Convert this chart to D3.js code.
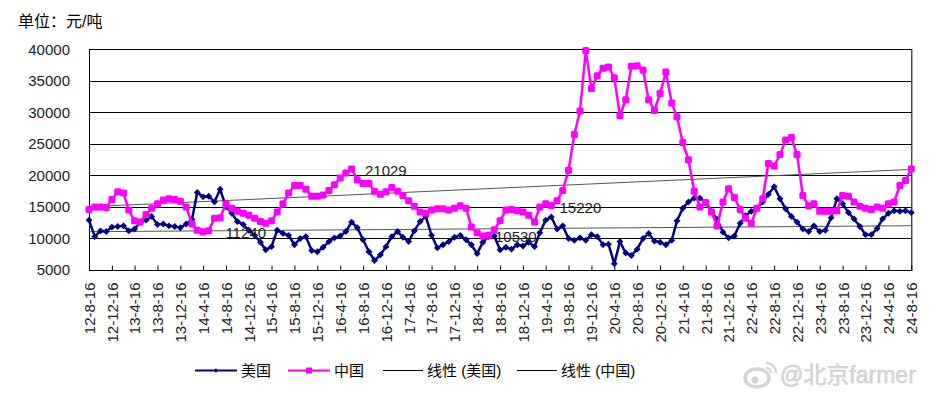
<!DOCTYPE html>
<html>
<head>
<meta charset="utf-8">
<script src="https://cdn.jsdelivr.net/npm/d3@7"></script>
<style>
body { margin: 0; background: #fff; }
text { font-family: "Liberation Sans", Arial, "Noto Sans CJK SC", sans-serif; }
</style>
</head>
<body>
<div id="chart"></div>
<script>
var svgWidth = 941;
var svgHeight = 397;

// monthly readings, Aug 2012 .. Aug 2024 (yuan/ton)
var usValues = [
    12900, 10300, 11200, 11100, 11800,
    11900, 12000, 11200, 11500, 12600, 12900, 13500, 12200, 12300, 12000, 11900, 11700,
    12300, 13000, 17300, 16600, 16700, 15800, 17800, 15000, 14000, 12700, 12200, 11300,
    10500, 9400, 8200, 8700, 11300, 10800, 10500, 9000, 10000, 10300, 8100, 7900,
    8600, 9500, 10100, 10400, 11100, 12600, 11700, 9800, 7900, 6500, 7400, 8700,
    10300, 11100, 10200, 9500, 11200, 12700, 13500, 10500, 8500, 9000, 9500, 10200,
    10500, 9800, 9000, 7600, 9400, 10300, 10400, 8200, 8600, 8300, 9000, 8800,
    9400, 8700, 10900, 12900, 13400, 11500, 12000, 10000, 9700, 10100, 9700, 10600,
    10300, 9000, 9100, 6000, 9500, 7700, 7300, 8300, 10000, 10800, 9600, 9400,
    9000, 9700, 12800, 14800, 15800, 16400, 16400, 15700, 14300, 13000, 11000, 10100,
    10400, 12400, 13600, 14300, 14800, 15800, 17000, 18200, 16300, 14700, 13500, 12600,
    11500, 11100, 12000, 11100, 11300, 13300, 16300, 15500, 14100, 13100, 11900, 10600,
    10600, 11600, 13100, 14000, 14400, 14300, 14400, 14100
];

var cnValues = [
    14600, 15000, 15000, 14900, 16200,
    17400, 17200, 14500, 12800, 12600, 13800, 14800, 15500, 16100, 16300, 16200, 15900,
    15000, 12300, 11300, 11070, 11240, 13200, 13300, 15500, 14800, 14300, 14000, 13700,
    13200, 12700, 12400, 12800, 14200, 15500, 17200, 18400, 18400, 17800, 16700, 16700,
    16900, 17600, 18500, 19600, 20400, 21029, 19300, 18700, 18700, 17500, 17000, 17400,
    18100, 17500, 16800, 16000, 15100, 14200, 14000, 14500, 14700, 14700, 14500, 14800,
    15200, 14800, 11800, 10900, 10400, 10530, 11400, 12800, 14500, 14600, 14400, 14200,
    13700, 12600, 15000, 15500, 15220, 16000, 17600, 20800, 26500, 30200, 39800, 33800,
    35800, 37000, 37200, 35500, 29500, 32000, 37300, 37400, 36700, 32000, 30300, 33000,
    36400, 31500, 29300, 25200, 22500, 17500, 15000, 15700, 14200, 12000, 15800, 17900,
    16500, 14600, 13200, 12400, 14800, 16300, 21900, 21500, 23300, 25600, 26000, 23300,
    16800, 15200, 15500, 14300, 14300, 14300, 14400, 16800, 16700, 15800, 15100, 14800,
    14600, 15000, 14800, 15500, 15800, 18400, 19200, 21000
];

// linear trend, value at first and last date
var usTrend = [11070, 12020];
var cnTrend = [15030, 20950];

var tickLabels = [
    "12-8-16", "12-12-16", "13-4-16", "13-8-16", "13-12-16", "14-4-16", "14-8-16", "14-12-16",
    "15-4-16", "15-8-16", "15-12-16", "16-4-16", "16-8-16", "16-12-16", "17-4-16", "17-8-16",
    "17-12-16", "18-4-16", "18-8-16", "18-12-16", "19-4-16", "19-8-16", "19-12-16", "20-4-16",
    "20-8-16", "20-12-16", "21-4-16", "21-8-16", "21-12-16", "22-4-16", "22-8-16", "22-12-16",
    "23-4-16", "23-8-16", "23-12-16", "24-4-16", "24-8-16"
];

var yTicks = [5000, 10000, 15000, 20000, 25000, 30000, 35000, 40000];

var labelDates = ["14-7-12", "16-7-25", "18-6-18", "19-5-28"];
var labelValues = [11240, 21029, 10530, 15220];

var parseDate = d3.timeParse("%y-%m-%d");
var tickDates = tickLabels.map(parseDate);
var dates = usValues.map((d, i) => new Date(2012, 7 + i, 16));

var margin = { top: 49.3, left: 89, right: 29.7, bottom: 127 };

var svg = d3.select("#chart")
    .append("svg")
    .attr("width", svgWidth)
    .attr("height", svgHeight);

var xScale = d3.scaleTime()
    .domain([tickDates[0], tickDates[tickDates.length - 1]])
    .range([margin.left, svgWidth - margin.right]);

var yScale = d3.scaleLinear()
    .domain([5000, 40000])
    .range([svgHeight - margin.bottom, margin.top]);

// title
svg.append("text")
    .attr("x", 18)
    .attr("y", 27)
    .attr("font-size", 16)
    .attr("fill", "#000")
    .text("单位：元/吨");

// gridlines
svg.append("g")
    .selectAll("line")
    .data(yTicks)
    .enter()
    .append("line")
    .attr("x1", xScale.range()[0])
    .attr("x2", xScale.range()[1])
    .attr("y1", d => Math.round(yScale(d)) + 0.5)
    .attr("y2", d => Math.round(yScale(d)) + 0.5)
    .attr("stroke", "#000")
    .attr("stroke-width", 1);

// y axis labels
svg.append("g")
    .selectAll("text")
    .data(yTicks)
    .enter()
    .append("text")
    .attr("x", 70)
    .attr("y", d => yScale(d))
    .attr("dy", "0.36em")
    .attr("text-anchor", "end")
    .attr("font-size", 15)
    .attr("fill", "#222")
    .text(d => d);

// plot frame
svg.append("rect")
    .attr("x", xScale.range()[0] + 0.5)
    .attr("y", Math.round(yScale(40000)) + 0.5)
    .attr("width", xScale.range()[1] - xScale.range()[0])
    .attr("height", Math.round(yScale(5000)) - Math.round(yScale(40000)))
    .attr("fill", "none")
    .attr("stroke", "#000")
    .attr("stroke-width", 1);

// x ticks (inside) and rotated labels
var xAxis = d3.axisBottom(xScale)
    .tickValues(tickDates)
    .tickSizeInner(-5)
    .tickSizeOuter(0)
    .tickFormat((d, i) => tickLabels[i]);

var xg = svg.append("g")
    .attr("transform", `translate(0, ${Math.round(yScale(5000)) + 0.5})`)
    .call(xAxis);
xg.select(".domain").remove();
xg.selectAll("line").attr("stroke", "#000");
xg.selectAll("text")
    .attr("font-size", 15)
    .attr("font-family", "\"Liberation Sans\", Arial, sans-serif")
    .attr("fill", "#222")
    .attr("text-anchor", "end")
    .attr("transform", "translate(0, 12) rotate(-90)")
    .attr("x", 0)
    .attr("y", 0)
    .attr("dy", "0.36em");

// trend lines
[usTrend, cnTrend].forEach(function(t) {
    svg.append("line")
        .attr("x1", xScale(dates[0]))
        .attr("y1", yScale(t[0]))
        .attr("x2", xScale(dates[dates.length - 1]))
        .attr("y2", yScale(t[1]))
        .attr("stroke", "#555")
        .attr("stroke-width", 1);
});

var line = d3.line()
    .x(d => xScale(d.date))
    .y(d => yScale(d.value));

var usData = dates.map((d, i) => ({ date: d, value: usValues[i] }));
var cnData = dates.map((d, i) => ({ date: d, value: cnValues[i] }));

svg.append("path")
    .datum(usData)
    .attr("d", line)
    .attr("fill", "none")
    .attr("stroke", "#000080")
    .attr("stroke-width", 2.5);

svg.append("g")
    .selectAll("path")
    .data(usData)
    .enter()
    .append("path")
    .attr("d", d3.symbol(d3.symbolDiamond2, 30))
    .attr("transform", d => `translate(${xScale(d.date)}, ${yScale(d.value)})`)
    .attr("fill", "#000080");

svg.append("path")
    .datum(cnData)
    .attr("d", line)
    .attr("fill", "none")
    .attr("stroke", "#ff00ff")
    .attr("stroke-width", 2.5);

svg.append("g")
    .selectAll("rect")
    .data(cnData)
    .enter()
    .append("rect")
    .attr("x", d => xScale(d.date) - 3.5)
    .attr("y", d => yScale(d.value) - 3.5)
    .attr("width", 7)
    .attr("height", 7)
    .attr("rx", 1.5)
    .attr("fill", "#ff00ff");

// data labels
svg.append("g")
    .selectAll("text")
    .data(labelValues)
    .enter()
    .append("text")
    .attr("x", (d, i) => xScale(parseDate(labelDates[i])) + 6)
    .attr("y", d => yScale(d) + 7)
    .attr("font-size", 15)
    .attr("fill", "#222")
    .text(d => d);

// legend
var legend = svg.append("g").attr("transform", "translate(0, 370)");
var legendItems = [
    { x: 195, w: 42, color: "#000080", mark: "diamond", label: "美国" },
    { x: 288, w: 42, color: "#ff00ff", mark: "square", label: "中国" },
    { x: 383, w: 40, color: "#000", mark: null, label: "线性 (美国)" },
    { x: 517, w: 40, color: "#000", mark: null, label: "线性 (中国)" }
];
legendItems.forEach(function(it) {
    legend.append("line")
        .attr("x1", it.x).attr("x2", it.x + it.w)
        .attr("y1", 0.5).attr("y2", 0.5)
        .attr("stroke", it.color)
        .attr("stroke-width", it.mark ? 2 : 1);
    if (it.mark === "diamond") {
        legend.append("path")
            .attr("d", d3.symbol(d3.symbolDiamond2, 14))
            .attr("transform", `translate(${it.x + it.w / 2}, 0.5)`)
            .attr("fill", it.color);
    } else if (it.mark === "square") {
        legend.append("rect")
            .attr("x", it.x + it.w / 2 - 3).attr("y", -2.5)
            .attr("width", 6).attr("height", 6)
            .attr("fill", it.color);
    }
    legend.append("text")
        .attr("x", it.x + it.w + 4)
        .attr("y", 6)
        .attr("font-size", 15)
        .attr("fill", "#000")
        .text(it.label);
});

// watermark
var wm = svg.append("g").attr("opacity", 0.9);
wm.append("ellipse")
    .attr("cx", 757).attr("cy", 378).attr("rx", 12).attr("ry", 9)
    .attr("fill", "none").attr("stroke", "#d0d0d0").attr("stroke-width", 3.5);
wm.append("circle")
    .attr("cx", 755).attr("cy", 380).attr("r", 3.5)
    .attr("fill", "#d0d0d0");
wm.append("path")
    .attr("d", "M766,363 A10,10 0 0 1 776,373 M766,368 A5,5 0 0 1 771,373")
    .attr("fill", "none").attr("stroke", "#d0d0d0").attr("stroke-width", 2.5);
wm.append("text")
    .attr("x", 780)
    .attr("y", 383)
    .attr("font-size", 23)
    .attr("fill", "#d4d4d4")
    .attr("stroke", "#c8c8c8")
    .attr("stroke-width", 0.6)
    .text("@北京farmer");
</script>
</body>
</html>
